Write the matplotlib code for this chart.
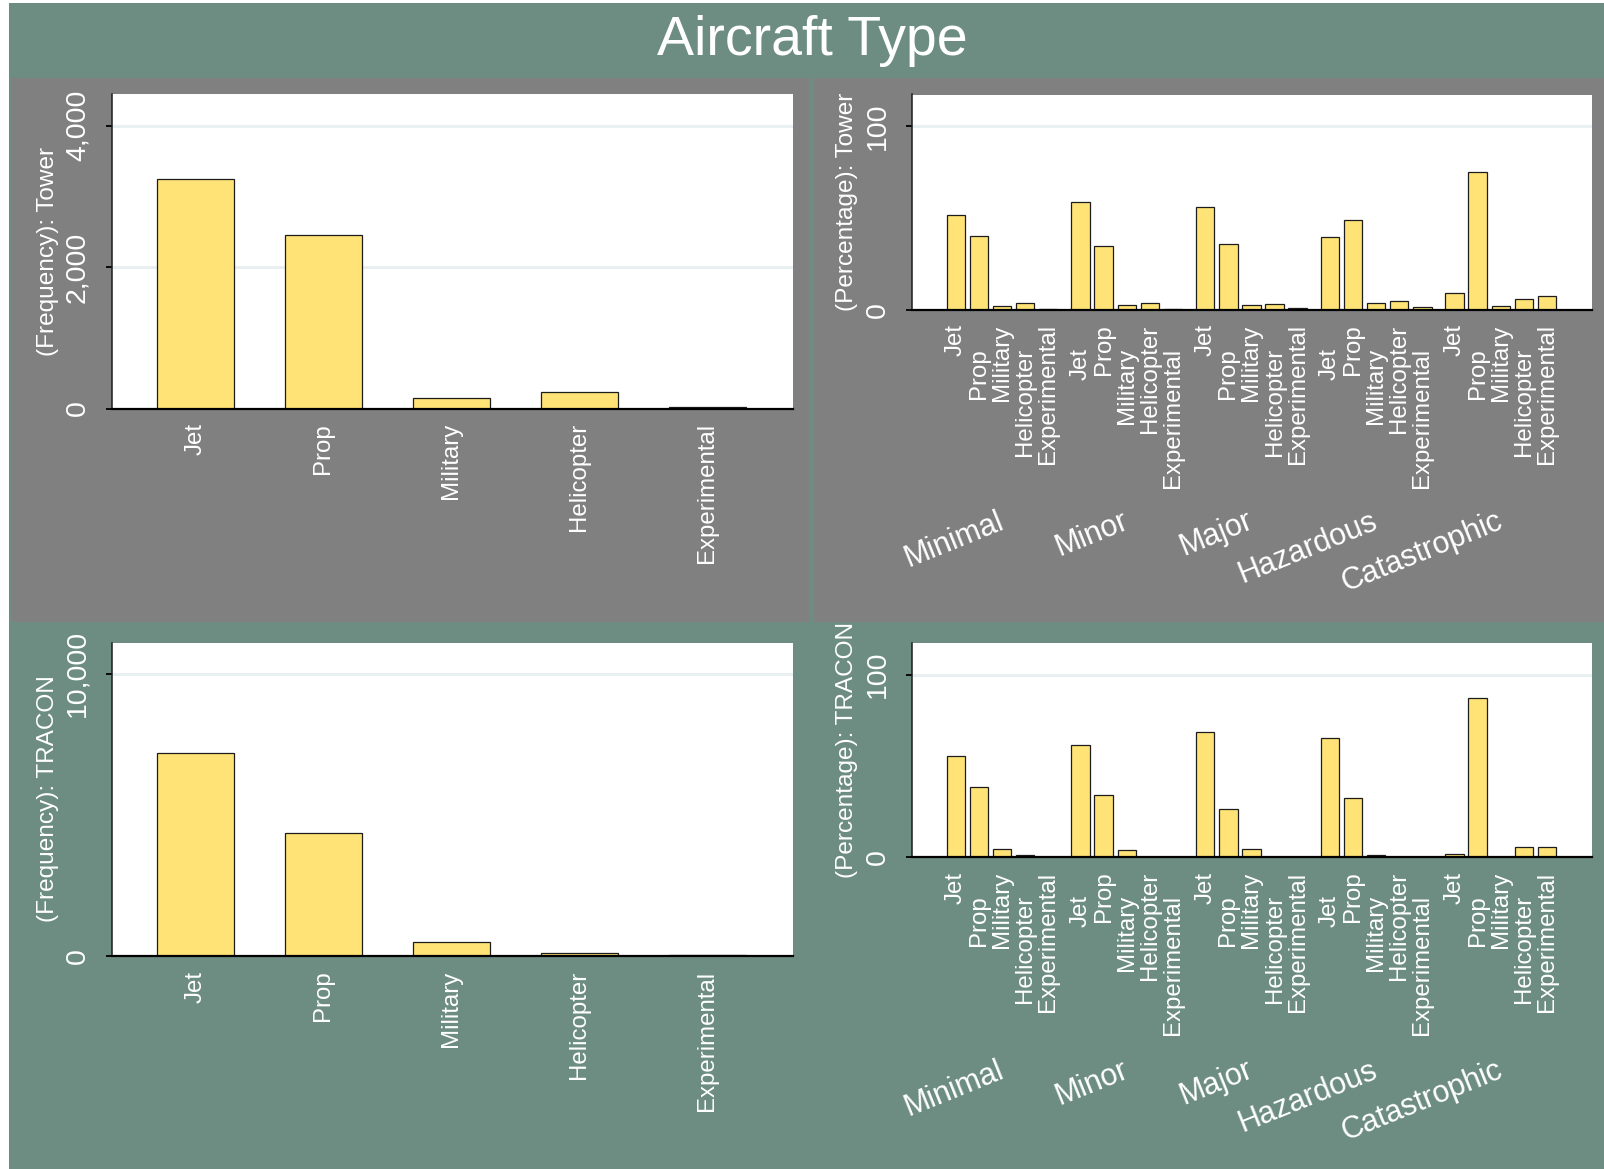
import matplotlib
matplotlib.use("Agg")
import matplotlib.pyplot as plt
from matplotlib.patches import Rectangle
from matplotlib.transforms import blended_transform_factory
import numpy as np

plt.rcParams['font.family'] = ['Liberation Sans', 'DejaVu Sans']

# ---- data ----
aircraft_types = ["Jet", "Prop", "Military", "Helicopter", "Experimental"]
severity_levels = ["Minimal", "Minor", "Major", "Hazardous", "Catastrophic"]

tower_freq = [3243, 2457, 142, 236, 28]
tracon_freq = [7185, 4370, 488, 103, 26]

tower_minimal = [51.5, 40.4, 1.9, 3.8, 0.2]
tower_minor = [58.6, 34.6, 2.4, 3.4, 0.2]
tower_major = [56.2, 35.7, 2.4, 3.0, 0.8]
tower_hazardous = [39.5, 49.1, 3.9, 4.5, 1.3]
tower_catastrophic = [9.2, 75.0, 1.9, 5.8, 7.3]

tracon_minimal = [55.4, 38.5, 4.2, 1.1, 0.2]
tracon_minor = [61.3, 33.9, 3.6, 0.1, 0.1]
tracon_major = [68.6, 26.3, 4.2, 0.1, 0.1]
tracon_hazardous = [65.0, 32.2, 1.1, 0.1, 0.1]
tracon_catastrophic = [1.5, 87.2, 0.0, 5.3, 5.3]

tower_pct = [tower_minimal, tower_minor, tower_major, tower_hazardous, tower_catastrophic]
tracon_pct = [tracon_minimal, tracon_minor, tracon_major, tracon_hazardous, tracon_catastrophic]

# ---- style ----
GREEN = "#6d8d82"
GRAY = "#808080"
BAR = "#ffe377"
EDGE = "#1c1c1c"
GRID = "#e8f0f1"
W, H = 1604, 1169

fig = plt.figure(figsize=(W / 100, H / 100), dpi=100, facecolor="white")

# outer background and the two shaded upper panels
fig.patches.append(Rectangle((9 / W, 0), (W - 9) / W, (H - 3) / H,
                             transform=fig.transFigure, facecolor=GREEN,
                             edgecolor="none", zorder=-10))
for x0, x1 in [(12, 809), (814, W)]:
    fig.patches.append(Rectangle((x0 / W, 1 - 622 / H), (x1 - x0) / W, (622 - 78) / H,
                                 transform=fig.transFigure, facecolor=GRAY,
                                 edgecolor="none", zorder=-9))


def px_axes(x0, y0, x1, y1):
    return fig.add_axes([x0 / W, 1 - y1 / H, (x1 - x0) / W, (y1 - y0) / H])


def style_axes(ax, yticks, ylabels, ymax):
    ax.set_facecolor("white")
    ax.set_ylim(0, ymax)
    ax.set_yticks(yticks)
    ax.set_yticklabels(ylabels, rotation=90, va="center")
    for s in ("top", "right"):
        ax.spines[s].set_visible(False)
    ax.spines["left"].set_color(EDGE)
    ax.spines["left"].set_linewidth(1.1)
    ax.spines["bottom"].set_color("black")
    ax.spines["bottom"].set_linewidth(1.6)
    ax.tick_params(axis="y", colors="black", labelcolor="white", length=4.5,
                   width=1.3, pad=11, labelsize=20.5)
    ax.tick_params(axis="x", which="both", length=0, labelcolor="white",
                   labelsize=17.3, labelrotation=90)
    for v in yticks[1:]:
        ax.axhline(v, color=GRID, lw=2.2, zorder=0)


def freq_panel(box, values, yticks, ylabels, ymax, title, title_xy):
    ax = px_axes(*box)
    x = np.arange(len(aircraft_types))
    ax.bar(x, values, width=0.6, color=BAR, edgecolor=EDGE, linewidth=0.9, zorder=2)
    ax.set_xlim(-0.65, 4.67)
    style_axes(ax, yticks, ylabels, ymax)
    ax.set_xticks(x)
    ax.set_xticklabels(aircraft_types)
    ax.tick_params(axis="x", pad=10.5)
    fig.text(title_xy[0] / W, 1 - title_xy[1] / H, title, rotation=90,
             ha="center", va="center", color="white", fontsize=17.6)
    return ax


def pct_panel(box, groups, title, title_xy, group_label_y):
    ax = px_axes(*box)
    period = 5.4
    n = len(aircraft_types)
    pos, vals, labels = [], [], []
    for g, grp in enumerate(groups):
        for i, v in enumerate(grp):
            pos.append(g * period + i)
            vals.append(v)
            labels.append(aircraft_types[i])
    ax.bar(pos, vals, width=0.8, color=BAR, edgecolor=EDGE, linewidth=0.9, zorder=2)
    ax.set_xlim(-1.9, (len(groups) - 1) * period + n - 1 + 1.95)
    style_axes(ax, [0, 100], ["0", "100"], 117.3)
    # alternate tick labels on two rows
    ax.set_xticks(pos[0::2])
    ax.set_xticklabels(labels[0::2])
    ax.set_xticks(pos[1::2], minor=True)
    ax.set_xticklabels(labels[1::2], minor=True)
    ax.tick_params(axis="x", which="major", pad=10.5)
    ax.tick_params(axis="x", which="minor", pad=27.5)
    trans = blended_transform_factory(ax.transData, fig.transFigure)
    for g, name in enumerate(severity_levels):
        cx = g * period + (n - 1) / 2 - 0.22
        ax.text(cx, 1 - group_label_y / H, name, transform=trans, rotation=22,
                rotation_mode="anchor", ha="right", va="top", color="white",
                fontsize=22, clip_on=False)
    fig.text(title_xy[0] / W, 1 - title_xy[1] / H, title, rotation=90,
             ha="center", va="center", color="white", fontsize=17.6)
    return ax


freq_panel((112, 94, 793, 408.5), tower_freq, [0, 2000, 4000],
           ["0", "2,000", "4,000"], 4450, "(Frequency): Tower", (48, 251))
freq_panel((112, 642.5, 793, 956), tracon_freq, [0, 10000],
           ["0", "10,000"], 11100, "(Frequency): TRACON", (48, 799))
pct_panel((912, 94.5, 1592, 309.7), tower_pct, "(Percentage): Tower", (847, 202), 506)
pct_panel((912, 643, 1592, 857), tracon_pct, "(Percentage): TRACON", (847, 750), 1055)

fig.text(812 / W, 1 - 55 / H, "Aircraft Type", ha="center", va="baseline",
         color="white", fontsize=40)

fig.savefig("out.png", dpi=100, facecolor=fig.get_facecolor())
